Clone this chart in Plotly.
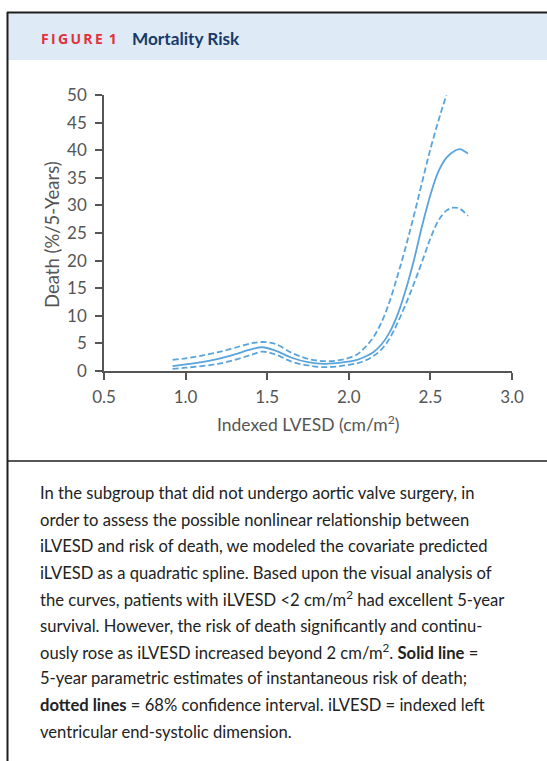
import plotly.graph_objects as go

# ---- data ----
x_solid = [0.92, 1.0, 1.1, 1.2, 1.3, 1.4, 1.47, 1.55, 1.65, 1.75, 1.85, 1.95, 2.05, 2.1, 2.15, 2.2, 2.25,
           2.3, 2.35, 2.4, 2.45, 2.5, 2.55, 2.6, 2.65, 2.68, 2.73]
solid_est = [0.9, 1.2, 1.6, 2.2, 3.0, 3.9, 4.3, 3.7, 2.4, 1.6, 1.3, 1.5, 2.0, 2.6, 3.4, 4.8, 7.0,
             10.3, 14.8, 20.2, 26.4, 31.9, 36.2, 38.7, 39.9, 40.2, 39.4]
x_upper = [0.92, 1.0, 1.1, 1.2, 1.3, 1.4, 1.47, 1.55, 1.65, 1.75, 1.85, 1.95, 2.05, 2.1, 2.15, 2.2, 2.25,
           2.3, 2.35, 2.4, 2.45, 2.5, 2.55, 2.6]
upper_ci = [2.0, 2.3, 2.8, 3.4, 4.2, 5.0, 5.25, 4.9, 3.3, 2.2, 1.8, 2.0, 3.0, 4.3, 6.1, 8.8, 12.6,
            17.4, 22.6, 28.3, 34.3, 40.2, 45.4, 50.2]
x_lower = [0.92, 1.0, 1.1, 1.2, 1.3, 1.4, 1.47, 1.55, 1.65, 1.75, 1.85, 1.95, 2.05, 2.1, 2.15, 2.2, 2.25,
           2.3, 2.35, 2.4, 2.45, 2.5, 2.55, 2.6, 2.64, 2.68, 2.73]
lower_ci = [0.4, 0.6, 0.9, 1.3, 2.0, 2.9, 3.5, 3.0, 1.7, 1.0, 0.7, 0.9, 1.4, 1.9, 2.7, 3.9, 5.9,
            8.8, 12.2, 15.9, 19.9, 24.0, 27.3, 29.1, 29.6, 29.4, 28.1]

x_ticks = [0.5, 1.0, 1.5, 2.0, 2.5, 3.0]
x_tick_labels = ["0.5", "1.0", "1.5", "2.0", "2.5", "3.0"]
y_ticks = [0, 5, 10, 15, 20, 25, 30, 35, 40, 45, 50]

caption_lines = [
    "In the subgroup that did not undergo aortic valve surgery, in",
    "order to assess the possible nonlinear relationship between",
    "iLVESD and risk of death, we modeled the covariate predicted",
    "iLVESD as a quadratic spline. Based upon the visual analysis of",
    "the curves, patients with iLVESD &lt;2 cm/m<sup>2</sup> had excellent 5-year",
    "survival. However, the risk of death significantly and continu-",
    "ously rose as iLVESD increased beyond 2 cm/m<sup>2</sup>. <b>Solid line</b> =",
    "5-year parametric estimates of instantaneous risk of death;",
    "<b>dotted lines</b> = 68% confidence interval. iLVESD = indexed left",
    "ventricular end-systolic dimension.",
]

W, H = 547, 761
L, R, T, B = 104, 512, 95, 371
FONT = "Lato"
LINE_COLOR = "#5aa4dc"
AX_COLOR = "#555555"


def px(xp):
    return (xp - L) / (R - L)


def py(yp):
    return (B - yp) / (B - T)


fig = go.Figure()
fig.add_trace(go.Scatter(x=x_upper, y=upper_ci, mode="lines",
                         line=dict(color=LINE_COLOR, width=1.8, dash="6px,3px", shape="spline", smoothing=1.0)))
fig.add_trace(go.Scatter(x=x_lower, y=lower_ci, mode="lines",
                         line=dict(color=LINE_COLOR, width=1.8, dash="6px,3px", shape="spline", smoothing=1.0)))
fig.add_trace(go.Scatter(x=x_solid, y=solid_est, mode="lines",
                         line=dict(color=LINE_COLOR, width=1.8, shape="spline", smoothing=1.0)))

shapes = [
    dict(type="rect", xref="paper", yref="paper", x0=px(8), x1=px(548), y0=py(60), y1=py(13),
         fillcolor="#deeaf6", line=dict(width=0), layer="below"),
    dict(type="line", xref="paper", yref="paper", x0=px(7), x1=px(548), y0=py(12.5), y1=py(12.5),
         line=dict(color="#1e1e1e", width=2)),
    dict(type="line", xref="paper", yref="paper", x0=px(7.5), x1=px(7.5), y0=py(12), y1=py(762),
         line=dict(color="#1e1e1e", width=2)),
    dict(type="line", xref="paper", yref="paper", x0=px(8), x1=px(548), y0=py(461), y1=py(461),
         line=dict(color="#1e1e1e", width=1.5)),
]

HS = "\u2009"
fig_label = HS.join(list("FIGURE")) + "\u00a0" + HS + "1"

annotations = [
    dict(xref="paper", yref="paper", x=px(39), y=py(38.5), xanchor="left", yanchor="middle",
         text="<b>" + fig_label + "</b>", showarrow=False,
         font=dict(family="Open Sans", size=14, color="#e2313b")),
    dict(xref="paper", yref="paper", x=px(130), y=py(38.5), xanchor="left", yanchor="middle",
         text="<b>Mortality Risk</b>", showarrow=False,
         font=dict(family=FONT, size=17.2, color="#173a6a")),
    dict(xref="paper", yref="paper", x=px(308), y=py(423), xanchor="center", yanchor="middle",
         text="Indexed LVESD (cm/m<sup>2</sup>)", showarrow=False,
         font=dict(family=FONT, size=17.5, color=AX_COLOR)),
    dict(xref="paper", yref="paper", x=px(52), y=py(235), xanchor="center", yanchor="middle",
         text="Death (%/5-Years)", textangle=-90, showarrow=False,
         font=dict(family=FONT, size=18.5, color=AX_COLOR)),
]
for i, line in enumerate(caption_lines):
    annotations.append(dict(xref="paper", yref="paper", x=px(38), y=py(493 + 26.5 * i),
                            xanchor="left", yanchor="middle", text=line, showarrow=False,
                            font=dict(family=FONT, size=16.6, color="#222222")))

fig.update_layout(
    width=W, height=H,
    margin=dict(l=L, r=W - R, t=T, b=H - B),
    paper_bgcolor="white", plot_bgcolor="white",
    showlegend=False,
    font=dict(family=FONT, color=AX_COLOR),
    shapes=shapes,
    annotations=annotations,
    xaxis=dict(range=[0.5, 3.0], tickvals=x_ticks, ticktext=x_tick_labels,
               showgrid=False, zeroline=False, showline=True, linecolor=AX_COLOR, linewidth=1.6,
               ticks="outside", ticklen=7, tickwidth=1.6, tickcolor=AX_COLOR, ticklabelstandoff=3,
               tickfont=dict(family=FONT, size=17, color=AX_COLOR)),
    yaxis=dict(range=[0, 50], tickvals=y_ticks,
               showgrid=False, zeroline=False, showline=True, linecolor=AX_COLOR, linewidth=1.6,
               ticks="outside", ticklen=7, tickwidth=1.6, tickcolor=AX_COLOR, ticklabelstandoff=5,
               tickfont=dict(family=FONT, size=17, color=AX_COLOR)),
)

fig.write_html("out.html", config={"displayModeBar": False},
               post_script="document.body.style.margin='0';document.body.style.overflow='hidden';")
